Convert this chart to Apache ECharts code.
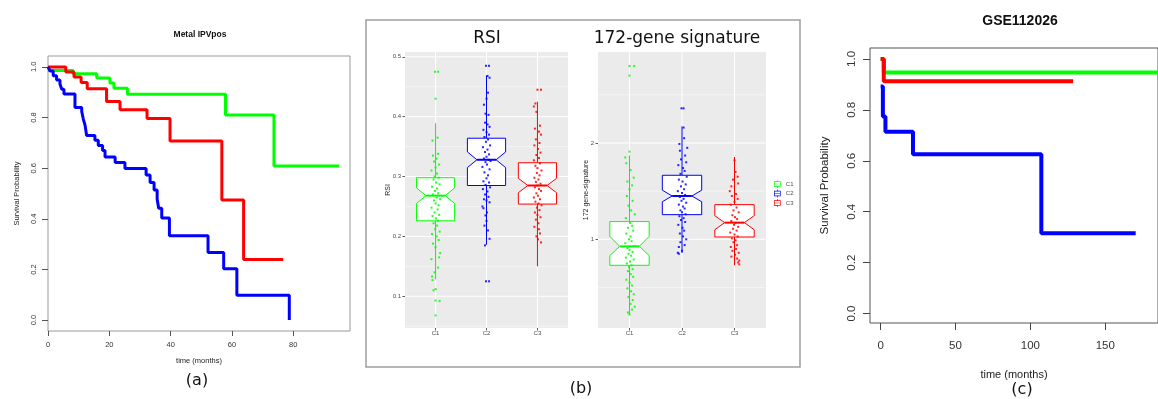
<!DOCTYPE html>
<html>
<head>
<meta charset="utf-8">
<script src="https://cdn.jsdelivr.net/npm/echarts@6.0.0/dist/echarts.min.js"></script>
<style>
html, body { margin: 0; padding: 0; background: #fff; }
#chart { width: 1158px; height: 399px; }
</style>
</head>
<body>
<div id="chart"></div>
<script>
// (a) Metal IPVpos, Kaplan-Meier steps [months, survival]
var metalGreen = [[0, 0.986], [8.2, 0.973], [15.9, 0.956], [20.2, 0.936], [21.5, 0.916], [25.9, 0.892],
    [57.9, 0.81], [73.7, 0.609], [95, 0.609]];
var metalRed = [[0, 1], [5.8, 0.98], [8.5, 0.96], [10.8, 0.938], [12.8, 0.914], [19.1, 0.863], [23.5, 0.831],
    [32.3, 0.796], [39.8, 0.707], [56.7, 0.474], [63.8, 0.239], [76.7, 0.239]];
var metalBlue = [[0, 1], [0.65, 0.984], [1.7, 0.965], [2.8, 0.948], [3.9, 0.932], [4.5, 0.912], [5.2, 0.893],
    [8.8, 0.84], [11, 0.824], [11.5, 0.795], [12.1, 0.769], [12.6, 0.729], [15.3, 0.71], [16.4, 0.69],
    [17.8, 0.67], [18.6, 0.644], [21.9, 0.622], [25.1, 0.599], [32, 0.573], [33.3, 0.543], [34.6, 0.514],
    [35.6, 0.478], [36.1, 0.442], [37.1, 0.403], [39.6, 0.333], [52.2, 0.267], [57.3, 0.203], [61.6, 0.098],
    [78.7, 0]];
var metalTimeTicks = [0, 20, 40, 60, 80];
var survTicks = [0, 0.2, 0.4, 0.6, 0.8, 1];

// (b) boxplots: lower whisker, Q1, notch low, median, notch high, Q3, upper whisker
var groups = ['C1', 'C2', 'C3'];
var rsiBoxes = [
    [0.128, 0.226, 0.255, 0.268, 0.281, 0.298, 0.389],
    [0.186, 0.285, 0.315, 0.328, 0.341, 0.364, 0.469],
    [0.150, 0.254, 0.273, 0.285, 0.297, 0.323, 0.425]
];
var sigBoxes = [
    [0.211, 0.73, 0.83, 0.927, 1.03, 1.184, 1.872],
    [0.858, 1.256, 1.39, 1.45, 1.51, 1.665, 2.173],
    [0.73, 1.024, 1.10, 1.173, 1.245, 1.36, 1.855]
];
// jittered points [offset from category, value]
var rsiPoints = [
    [[-0.01, 0.475], [0.05, 0.475], [0.0, 0.43], [-0.06, 0.36], [0.04, 0.365], [-0.05, 0.335], [0.05, 0.338],
     [0.02, 0.33], [-0.03, 0.325], [0.07, 0.32], [0.0, 0.315], [-0.08, 0.31], [0.03, 0.305], [-0.02, 0.30],
     [0.06, 0.298], [-0.04, 0.295], [0.01, 0.29], [0.08, 0.287], [-0.07, 0.283], [0.03, 0.28], [-0.01, 0.276],
     [0.05, 0.272], [-0.05, 0.27], [0.02, 0.265], [0.09, 0.262], [-0.03, 0.26], [0.0, 0.255], [0.06, 0.252],
     [-0.08, 0.248], [0.04, 0.245], [-0.02, 0.24], [0.07, 0.236], [-0.06, 0.234], [0.01, 0.23], [0.05, 0.226],
     [-0.04, 0.222], [0.03, 0.218], [-0.01, 0.212], [0.08, 0.208], [-0.07, 0.204], [0.02, 0.2], [0.06, 0.194],
     [-0.05, 0.188], [0.0, 0.182], [-0.08, 0.162], [0.09, 0.172], [0.07, 0.165], [0.05, 0.148], [-0.02, 0.14],
     [-0.07, 0.133], [-0.06, 0.127], [0.0, 0.112], [-0.04, 0.11], [0.0, 0.093], [0.08, 0.092], [0.0, 0.068]],
    [[-0.01, 0.485], [0.05, 0.485], [0.02, 0.468], [0.06, 0.465], [0.03, 0.44], [0.0, 0.43], [-0.05, 0.42],
     [-0.02, 0.405], [0.04, 0.403], [-0.03, 0.39], [0.02, 0.387], [0.06, 0.383], [-0.06, 0.378], [0.0, 0.374],
     [0.05, 0.37], [-0.04, 0.366], [0.03, 0.362], [-0.01, 0.358], [0.07, 0.352], [-0.07, 0.349], [0.02, 0.345],
     [-0.03, 0.341], [0.05, 0.337], [0.0, 0.333], [-0.05, 0.33], [0.04, 0.328], [0.08, 0.326], [-0.02, 0.324],
     [0.01, 0.32], [-0.08, 0.316], [0.06, 0.312], [-0.04, 0.307], [0.03, 0.302], [0.0, 0.297], [-0.06, 0.292],
     [0.05, 0.29], [-0.02, 0.286], [0.07, 0.282], [-0.07, 0.279], [0.02, 0.275], [-0.03, 0.27], [0.04, 0.266],
     [-0.05, 0.262], [0.0, 0.26], [0.06, 0.257], [-0.08, 0.25], [-0.06, 0.247], [0.01, 0.24], [-0.02, 0.235],
     [0.0, 0.226], [-0.04, 0.218], [0.03, 0.21], [0.06, 0.196], [-0.03, 0.185], [-0.01, 0.125], [0.05, 0.125]],
    [[0.0, 0.445], [0.07, 0.445], [-0.04, 0.422], [-0.07, 0.417], [-0.02, 0.408], [0.05, 0.385], [-0.05, 0.38],
     [0.03, 0.375], [0.07, 0.37], [-0.03, 0.362], [0.04, 0.356], [-0.06, 0.352], [0.01, 0.346], [0.06, 0.34],
     [-0.02, 0.336], [0.03, 0.331], [-0.07, 0.327], [0.05, 0.322], [-0.04, 0.318], [0.0, 0.314], [0.08, 0.31],
     [-0.01, 0.306], [0.04, 0.302], [-0.06, 0.298], [0.02, 0.295], [-0.03, 0.291], [0.06, 0.288], [0.0, 0.285],
     [-0.05, 0.282], [0.03, 0.279], [0.07, 0.276], [-0.02, 0.272], [0.01, 0.268], [-0.07, 0.265], [0.05, 0.262],
     [-0.04, 0.258], [0.02, 0.255], [0.08, 0.252], [-0.01, 0.248], [0.04, 0.244], [-0.05, 0.24], [0.0, 0.236],
     [0.06, 0.232], [-0.03, 0.228], [0.02, 0.222], [-0.06, 0.216], [0.03, 0.212], [0.05, 0.205], [-0.02, 0.2],
     [0.01, 0.195], [0.07, 0.19]]
];
var sigPoints = [
    [[0.0, 2.8], [0.09, 2.8], [0.0, 2.7], [0.0, 1.91], [-0.08, 1.85], [-0.06, 1.79], [0.02, 1.72], [0.08, 1.64],
     [-0.04, 1.6], [0.05, 1.56], [0.0, 1.52], [-0.05, 1.45], [0.06, 1.4], [-0.02, 1.35], [0.03, 1.3], [0.1, 1.26],
     [-0.07, 1.22], [0.01, 1.17], [0.05, 1.14], [-0.03, 1.12], [0.07, 1.09], [-0.06, 1.06], [0.02, 1.03],
     [-0.01, 1.0], [0.04, 0.98], [-0.08, 0.96], [0.09, 0.93], [-0.04, 0.91], [0.0, 0.89], [0.06, 0.87],
     [-0.02, 0.85], [0.03, 0.83], [-0.07, 0.81], [0.08, 0.79], [0.01, 0.77], [-0.05, 0.75], [0.04, 0.73],
     [-0.01, 0.71], [0.06, 0.69], [-0.03, 0.67], [0.02, 0.64], [0.07, 0.61], [-0.06, 0.58], [0.0, 0.55],
     [0.05, 0.52], [-0.04, 0.49], [0.03, 0.46], [0.08, 0.43], [-0.02, 0.4], [0.06, 0.37], [0.02, 0.33],
     [0.1, 0.3], [0.05, 0.27], [-0.03, 0.24], [0.0, 0.22]],
    [[-0.01, 2.36], [0.03, 2.36], [0.03, 2.16], [0.04, 2.05], [-0.05, 1.99], [0.1, 1.95], [-0.04, 1.92],
     [0.06, 1.87], [-0.02, 1.83], [0.08, 1.8], [-0.07, 1.77], [0.02, 1.74], [0.05, 1.71], [-0.03, 1.68],
     [0.09, 1.65], [-0.06, 1.62], [0.01, 1.6], [0.07, 1.57], [-0.02, 1.55], [0.04, 1.52], [-0.08, 1.5],
     [0.0, 1.48], [0.06, 1.46], [-0.04, 1.44], [0.03, 1.42], [-0.01, 1.4], [0.08, 1.38], [-0.06, 1.36],
     [0.02, 1.34], [0.05, 1.32], [-0.03, 1.3], [0.0, 1.28], [0.07, 1.26], [-0.05, 1.24], [0.03, 1.22],
     [-0.02, 1.2], [0.06, 1.18], [-0.07, 1.15], [0.01, 1.12], [0.04, 1.09], [-0.04, 1.06], [0.02, 1.03],
     [0.08, 1.0], [-0.03, 0.97], [0.05, 0.94], [-0.06, 0.92], [0.0, 0.88], [-0.08, 0.86], [-0.06, 0.85]],
    [[0.0, 1.82], [0.02, 1.7], [0.06, 1.65], [-0.03, 1.62], [0.07, 1.58], [-0.06, 1.55], [-0.09, 1.5],
     [0.03, 1.47], [-0.05, 1.45], [0.06, 1.42], [0.0, 1.39], [-0.07, 1.36], [0.04, 1.33], [-0.02, 1.3],
     [0.08, 1.28], [-0.04, 1.25], [0.01, 1.23], [0.05, 1.21], [-0.06, 1.19], [0.02, 1.17], [-0.01, 1.15],
     [0.07, 1.13], [-0.03, 1.11], [0.04, 1.09], [-0.08, 1.07], [0.0, 1.05], [0.06, 1.03], [-0.05, 1.01],
     [0.02, 0.99], [-0.02, 0.97], [0.05, 0.94], [-0.07, 0.92], [0.03, 0.9], [-0.04, 0.88], [0.08, 0.86],
     [0.01, 0.84], [-0.06, 0.82], [0.05, 0.8], [0.09, 0.78], [0.07, 0.76], [0.09, 0.74]]
];
var rsiTicks = [0.1, 0.2, 0.3, 0.4, 0.5];
var rsiMinor = [0.05, 0.15, 0.25, 0.35, 0.45];
var sigTicks = [1, 2];
var sigMinor = [0.5, 1.5, 2.5];
var catTicks = [1, 2, 3];

// (c) GSE112026
var gseGreen = [[0, 1], [2.1, 0.947], [186, 0.947]];
var gseRed = [[0, 1], [2.1, 0.912], [128.5, 0.912]];
var gseBlue = [[0, 0.892], [1.5, 0.774], [3.2, 0.714], [21.6, 0.626], [107.3, 0.315], [170.3, 0.315]];
var gseTimeTicks = [0, 50, 100, 150];

var colors = ['#00ff00', '#0000ff', '#ff0000'];
var rFont = '"Liberation Sans", Arial, sans-serif';
var dvFont = '"DejaVu Sans", sans-serif';

var chart = echarts.init(document.getElementById('chart'));

function fmt1(v) { return v.toFixed(1); }

// R base-graphics style axis
function rAxis(grid, min, max, ticks, o) {
    return {
        type: 'value', gridIndex: grid, min: min, max: max,
        axisLine: { show: false, onZero: false },
        splitLine: { show: false },
        axisTick: { customValues: ticks, length: o.tick, lineStyle: { color: o.color } },
        axisLabel: {
            customValues: ticks, fontSize: o.size, color: '#333', fontFamily: rFont,
            margin: o.margin, rotate: o.rotate || 0, formatter: o.formatter
        },
        name: o.name, nameLocation: 'middle', nameGap: o.nameGap, nameRotate: o.nameRotate,
        nameMoveOverlap: false,
        nameTextStyle: { fontSize: o.nameSize, color: '#222', fontFamily: rFont }
    };
}

// ggplot style axis
function ggAxis(grid, min, max, ticks, o) {
    return {
        type: 'value', gridIndex: grid, min: min, max: max,
        axisLine: { show: false, onZero: false },
        splitLine: { show: false },
        axisTick: { customValues: ticks, length: 2.5, lineStyle: { color: '#333', width: 0.8 } },
        axisLabel: { customValues: ticks, fontSize: 6, color: '#4d4d4d', fontFamily: rFont, margin: o.margin, formatter: o.formatter },
        name: o.name, nameLocation: 'middle', nameGap: o.nameGap, nameRotate: o.nameRotate,
        nameMoveOverlap: false,
        nameTextStyle: { fontSize: 7, color: '#222', fontFamily: rFont }
    };
}

function kmLine(data, color, idx, width) {
    return {
        type: 'line', xAxisIndex: idx, yAxisIndex: idx, data: data, step: 'end',
        showSymbol: false, silent: true, z: 3,
        lineStyle: { color: color, width: width }, itemStyle: { color: color }
    };
}

function gridLines(idx, values, dir, width) {
    return {
        type: 'custom', xAxisIndex: idx, yAxisIndex: idx, silent: true, z: 1,
        data: values.map(function (v) { return [v, v]; }),
        renderItem: function (params, api) {
            var cs = params.coordSys, v = api.value(0);
            var shape;
            if (dir === 'h') {
                var y = api.coord([1, v])[1];
                shape = { x1: cs.x, y1: y, x2: cs.x + cs.width, y2: y };
            } else {
                var x = api.coord([v, 1])[0];
                shape = { x1: x, y1: cs.y, x2: x, y2: cs.y + cs.height };
            }
            return { type: 'line', shape: shape, style: { stroke: '#fff', lineWidth: width } };
        }
    };
}

function renderNotchBox(params, api) {
    var c = api.value(0);
    var lo = api.value(1), q1 = api.value(2), nl = api.value(3), md = api.value(4),
        nh = api.value(5), q3 = api.value(6), hi = api.value(7);
    var color = api.visual('color');
    var w = 0.375, n = w / 2;
    function P(dx, v) { return api.coord([c + dx, v]); }
    var pts = [P(-w, q1), P(-w, nl), P(-n, md), P(-w, nh), P(-w, q3),
               P(w, q3), P(w, nh), P(n, md), P(w, nl), P(w, q1)];
    var top = P(0, hi), q3p = P(0, q3), q1p = P(0, q1), bot = P(0, lo);
    var ml = P(-n, md), mr = P(n, md);
    return {
        type: 'group',
        children: [
            { type: 'line', shape: { x1: top[0], y1: top[1], x2: q3p[0], y2: q3p[1] }, style: { stroke: color, lineWidth: 1 } },
            { type: 'line', shape: { x1: q1p[0], y1: q1p[1], x2: bot[0], y2: bot[1] }, style: { stroke: color, lineWidth: 1 } },
            { type: 'polygon', shape: { points: pts }, style: { fill: '#fff', stroke: color, lineWidth: 1 } },
            { type: 'line', shape: { x1: ml[0], y1: ml[1], x2: mr[0], y2: mr[1] }, style: { stroke: color, lineWidth: 2 } }
        ]
    };
}

var series = [
    kmLine(metalGreen, colors[0], 0, 3),
    kmLine(metalRed, colors[2], 0, 3),
    kmLine(metalBlue, colors[1], 0, 3),
    gridLines(1, rsiMinor, 'h', 0.5),
    gridLines(1, rsiTicks, 'h', 1),
    gridLines(1, catTicks, 'v', 1),
    gridLines(2, sigMinor, 'h', 0.5),
    gridLines(2, sigTicks, 'h', 1),
    gridLines(2, catTicks, 'v', 1),
    kmLine(gseGreen, colors[0], 3, 4),
    kmLine(gseRed, colors[2], 3, 4),
    kmLine(gseBlue, colors[1], 3, 4)
];

[[1, rsiBoxes, rsiPoints], [2, sigBoxes, sigPoints]].forEach(function (set) {
    var idx = set[0];
    groups.forEach(function (g, gi) {
        series.push({
            type: 'custom', name: g, xAxisIndex: idx, yAxisIndex: idx, silent: true, z: 2,
            itemStyle: { color: colors[gi] },
            encode: { x: 0, y: [1, 2, 3, 4, 5, 6, 7] },
            data: [[gi + 1].concat(set[1][gi])],
            renderItem: renderNotchBox
        });
        series.push({
            type: 'scatter', name: g + ' points', xAxisIndex: idx, yAxisIndex: idx, silent: true, z: 3,
            symbol: 'rect', symbolSize: 2,
            itemStyle: { color: colors[gi], opacity: 0.85 },
            data: set[2][gi].map(function (p) { return [gi + 1 + p[0], p[1]]; })
        });
    });
});

function label(text, x, y, font) {
    return {
        type: 'text', x: x, y: y, silent: true,
        style: { text: text, font: font, fill: '#111', align: 'center', verticalAlign: 'middle' }
    };
}

var boxIcon = 'path://M0,2H10V10H0Z M1,3V9H9V3Z M1,5.5H9V6.5H1Z M4.5,0H5.5V2H4.5Z M4.5,10H5.5V12H4.5Z';

chart.setOption({
    animation: false,
    backgroundColor: '#fff',
    grid: [
        { left: 48, top: 56, width: 302, height: 275, show: true, borderColor: '#999', borderWidth: 1, backgroundColor: 'transparent' },
        { left: 405, top: 52, width: 163, height: 276, show: true, borderWidth: 0, backgroundColor: '#ebebeb' },
        { left: 598, top: 52, width: 168, height: 276, show: true, borderWidth: 0, backgroundColor: '#ebebeb' },
        { left: 870, top: 48, width: 297, height: 275, show: true, borderColor: '#555', borderWidth: 1, backgroundColor: 'transparent' }
    ],
    xAxis: [
        rAxis(0, 0, 98.5, metalTimeTicks, { tick: 5, color: '#555', size: 7.5, margin: 10, name: 'time (months)', nameGap: 26, nameSize: 7.5 }),
        ggAxis(1, 0.4, 3.6, catTicks, { margin: 2.5, formatter: function (v) { return groups[Math.round(v) - 1]; } }),
        ggAxis(2, 0.4, 3.6, catTicks, { margin: 2.5, formatter: function (v) { return groups[Math.round(v) - 1]; } }),
        rAxis(3, -7.1, 185.2, gseTimeTicks, { tick: 7, color: '#444', size: 11.5, margin: 17, name: 'time (months)', nameGap: 46, nameSize: 11 })
    ],
    yAxis: [
        rAxis(0, -0.043, 1.043, survTicks, { tick: 6, color: '#555', size: 7.5, margin: 10, rotate: 90, formatter: fmt1,
            name: 'Survival Probability', nameGap: 27, nameRotate: 90, nameSize: 7.5 }),
        ggAxis(1, 0.047, 0.508, rsiTicks, { margin: 4, formatter: fmt1, name: 'RSI', nameGap: 13, nameRotate: 90 }),
        ggAxis(2, 0.079, 2.945, sigTicks, { margin: 4, formatter: function (v) { return String(v); },
            name: '172 gene-signature', nameGap: 8, nameRotate: 90 }),
        rAxis(3, -0.037, 1.043, survTicks, { tick: 7, color: '#444', size: 11.5, margin: 12, rotate: 90, formatter: fmt1,
            name: 'Survival Probability', nameGap: 39, nameRotate: 90, nameSize: 11.5 })
    ],
    legend: {
        data: groups, orient: 'vertical', left: 774, top: 180, padding: 0,
        itemWidth: 7, itemHeight: 8, itemGap: 1.5, icon: boxIcon, selectedMode: false,
        textStyle: { fontSize: 6, color: '#4d4d4d', fontFamily: rFont }
    },
    graphic: [
        { type: 'rect', silent: true, shape: { x: 366, y: 20, width: 434, height: 347 },
          style: { fill: 'none', stroke: '#9e9e9e', lineWidth: 1.5 } },
        label('Metal IPVpos', 200, 35, 'bold 8.5px ' + rFont),
        label('RSI', 487, 39, '17px ' + dvFont),
        label('172-gene signature', 677, 39, '17px ' + dvFont),
        label('GSE112026', 1020, 21, 'bold 14px ' + rFont),
        label('(a)', 197, 381, '16px ' + dvFont),
        label('(b)', 581, 389, '16px ' + dvFont),
        label('(c)', 1022, 390, '16px ' + dvFont)
    ],
    series: series
});
</script>
</body>
</html>
